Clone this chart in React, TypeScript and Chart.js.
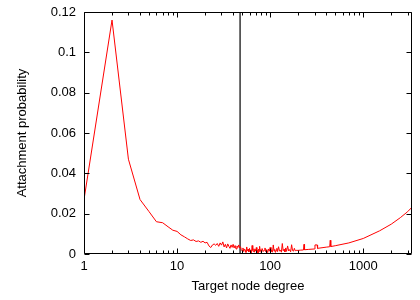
import { useEffect, useRef } from "react";
import { Chart, registerables } from "chart.js";

Chart.register(...registerables);

const degrees = [
  1, 2, 3, 4, 5, 6, 7, 8, 9, 10,
  11, 12, 13, 14, 15, 16, 17, 18, 19, 20,
  21, 22, 23, 24, 25, 26, 27, 28, 29, 30,
  31, 32, 33, 34, 35, 36, 37, 38, 39, 40,
  41, 42, 43, 44, 45, 46, 47, 48, 49, 50,
  51, 52, 53, 54, 55, 56, 57, 58, 59, 60,
  61, 62, 63, 64, 65, 66, 67, 68, 69, 70,
  71, 72, 73, 74, 75, 76, 77, 78, 79, 80,
  82, 84, 86, 88, 90, 92, 94, 96, 98, 100,
  102, 104, 106, 108, 110, 112, 114, 116, 118, 120,
  123, 126, 129, 132, 135, 138, 141, 144, 147, 150,
  154, 158, 162, 166, 170, 174, 178, 182, 186, 190,
  200, 210, 228, 231, 234, 260, 300, 303, 320, 323,
  400, 436, 442, 448, 500, 700, 1000, 1500, 2000, 2500,
  3000, 3340,
];

const probabilities = [
  0.027, 0.116, 0.047, 0.027, 0.021, 0.016, 0.0155, 0.0135, 0.0118, 0.0112,
  0.0095, 0.0085, 0.0075, 0.0067, 0.007, 0.0062, 0.0065, 0.0058, 0.0063, 0.0055,
  0.0058, 0.004, 0.0032, 0.0045, 0.005, 0.0043, 0.0052, 0.0038, 0.0055, 0.0044,
  0.006, 0.0035, 0.0048, 0.003, 0.005, 0.0038, 0.0028, 0.0045, 0.0033, 0.0048,
  0.003, 0.0042, 0.0025, 0.004, 0.0032, 0.0045, 0.003, 0.0036, 0.0022, 0.0015,
  0.003, 0.0012, 0.0025, 0.0018, 0.0008, 0.0035, 0.0016, 0.0024, 0.001, 0.0028,
  0.0014, 0.002, 0.0006, 0.0042, 0.0018, 0.0012, 0.0026, 0.0009, 0.0022, 0.0015,
  0.0032, 0.0011, 0.0019, 0.0005, 0.0024, 0.0013, 0.0038, 0.0016, 0.0021, 0.0008,
  0.0027, 0.0012, 0.0019, 0.003, 0.001, 0.0022, 0.0007, 0.0025, 0.0014, 0.0033,
  0.0011, 0.002, 0.0009, 0.0045, 0.0015, 0.0023, 0.0008, 0.0018, 0.0028, 0.0012,
  0.0036, 0.0014, 0.002, 0.0009, 0.0052, 0.0016, 0.0024, 0.001, 0.003, 0.0013,
  0.004, 0.0015, 0.0022, 0.0011, 0.0046, 0.0017, 0.0014, 0.0028, 0.0016, 0.0018,
  0.0018, 0.0019, 0.002, 0.0048, 0.0021, 0.0023, 0.0025, 0.0045, 0.0045, 0.0028,
  0.0034, 0.0036, 0.0068, 0.0037, 0.0041, 0.0055, 0.0077, 0.0115, 0.0148, 0.018,
  0.021, 0.0232,
];

const cutoffDegree = 47.5;

const xMajorTicks = [1, 10, 100, 1000];
const xMinorMultipliers = [2, 3, 4, 5, 6, 7, 8, 9];
const yTicks = [0, 0.02, 0.04, 0.06, 0.08, 0.1, 0.12];

const X_MIN = 1;
const X_MAX = 3340;
const Y_MIN = 0;
const Y_MAX = 0.12;

const FONT = "'Liberation Sans', Arial, Helvetica, sans-serif";

const framePlugin = {
  id: "gnuplotFrame",
  afterDraw(chart: any) {
    const { ctx, chartArea, scales } = chart;
    const { left, right, top, bottom } = chartArea;
    const xs = scales.x;
    const ys = scales.y;
    const L = Math.round(left) + 0.5;
    const R = Math.round(right) - 0.5;
    const T = Math.round(top) + 0.5;
    const B = Math.round(bottom) - 0.5;
    ctx.save();
    ctx.strokeStyle = "#000";
    ctx.lineWidth = 1;
    ctx.beginPath();
    const major = 5;
    const minor = 3;
    for (const v of xMajorTicks) {
      const px = Math.round(xs.getPixelForValue(v)) + 0.5;
      ctx.moveTo(px, B);
      ctx.lineTo(px, B - major);
      ctx.moveTo(px, T);
      ctx.lineTo(px, T + major);
      for (const m of xMinorMultipliers) {
        const mv = v * m;
        if (mv > X_MAX) continue;
        const mp = Math.round(xs.getPixelForValue(mv)) + 0.5;
        ctx.moveTo(mp, B);
        ctx.lineTo(mp, B - minor);
        ctx.moveTo(mp, T);
        ctx.lineTo(mp, T + minor);
      }
    }
    for (const v of yTicks) {
      const py = Math.round(ys.getPixelForValue(v)) + 0.5;
      ctx.moveTo(L, py);
      ctx.lineTo(L + major, py);
      ctx.moveTo(R, py);
      ctx.lineTo(R - major, py);
    }
    ctx.moveTo(L, T);
    ctx.lineTo(R, T);
    ctx.lineTo(R, B);
    ctx.lineTo(L, B);
    ctx.closePath();
    ctx.stroke();
    ctx.restore();
  },
};

export default function App() {
  const canvasRef = useRef<HTMLCanvasElement | null>(null);

  useEffect(() => {
    document.body.style.margin = "0";
    const canvas = canvasRef.current;
    if (!canvas) return;
    const points = degrees.map((d, i) => ({ x: d, y: probabilities[i] }));
    const chart = new Chart(canvas, {
      type: "line",
      data: {
        datasets: [
          {
            data: points,
            borderColor: "#ff0000",
            borderWidth: 1,
            pointRadius: 0,
            tension: 0,
            fill: false,
          },
          {
            data: [
              { x: cutoffDegree, y: Y_MIN },
              { x: cutoffDegree, y: Y_MAX },
            ],
            borderColor: "#000000",
            borderWidth: 1.2,
            pointRadius: 0,
            fill: false,
          },
        ],
      },
      options: {
        responsive: false,
        animation: false,
        layout: { padding: { left: 0, right: 8, top: 12, bottom: 0 } },
        plugins: {
          legend: { display: false },
          tooltip: { enabled: false },
        },
        scales: {
          x: {
            type: "logarithmic",
            min: X_MIN,
            max: X_MAX,
            grid: { display: false, drawTicks: false },
            border: { display: false },
            afterBuildTicks: (scale: any) => {
              scale.ticks = xMajorTicks.map((v) => ({ value: v, major: true }));
            },
            afterFit: (scale: any) => {
              scale.height = 46;
              scale.paddingLeft = 0;
              scale.paddingRight = 0;
            },
            ticks: {
              autoSkip: false,
              maxRotation: 0,
              padding: 5,
              color: "#000",
              font: { family: FONT, size: 13 },
              callback: (v: any) => String(v),
            },
            title: {
              display: true,
              text: "Target node degree",
              color: "#000",
              font: { family: FONT, size: 13 },
              padding: { top: 0, bottom: 6 },
            },
          },
          y: {
            type: "linear",
            min: Y_MIN,
            max: Y_MAX,
            grid: { display: false, drawTicks: false },
            border: { display: false },
            afterBuildTicks: (scale: any) => {
              scale.ticks = yTicks.map((v) => ({ value: v }));
            },
            afterFit: (scale: any) => {
              scale.width = 84;
              scale.paddingTop = 0;
              scale.paddingBottom = 0;
            },
            ticks: {
              padding: 8,
              color: "#000",
              font: { family: FONT, size: 13 },
              callback: (v: any) => String(Number(Number(v).toFixed(2))),
            },
            title: {
              display: true,
              text: "Attachment probability",
              color: "#000",
              font: { family: FONT, size: 13 },
              padding: { top: 15, bottom: 0 },
            },
          },
        },
      },
      plugins: [framePlugin],
    });
    return () => chart.destroy();
  }, []);

  return (
    <div style={{ width: 420, height: 300 }}>
      <canvas ref={canvasRef} width={420} height={300} />
    </div>
  );
}
